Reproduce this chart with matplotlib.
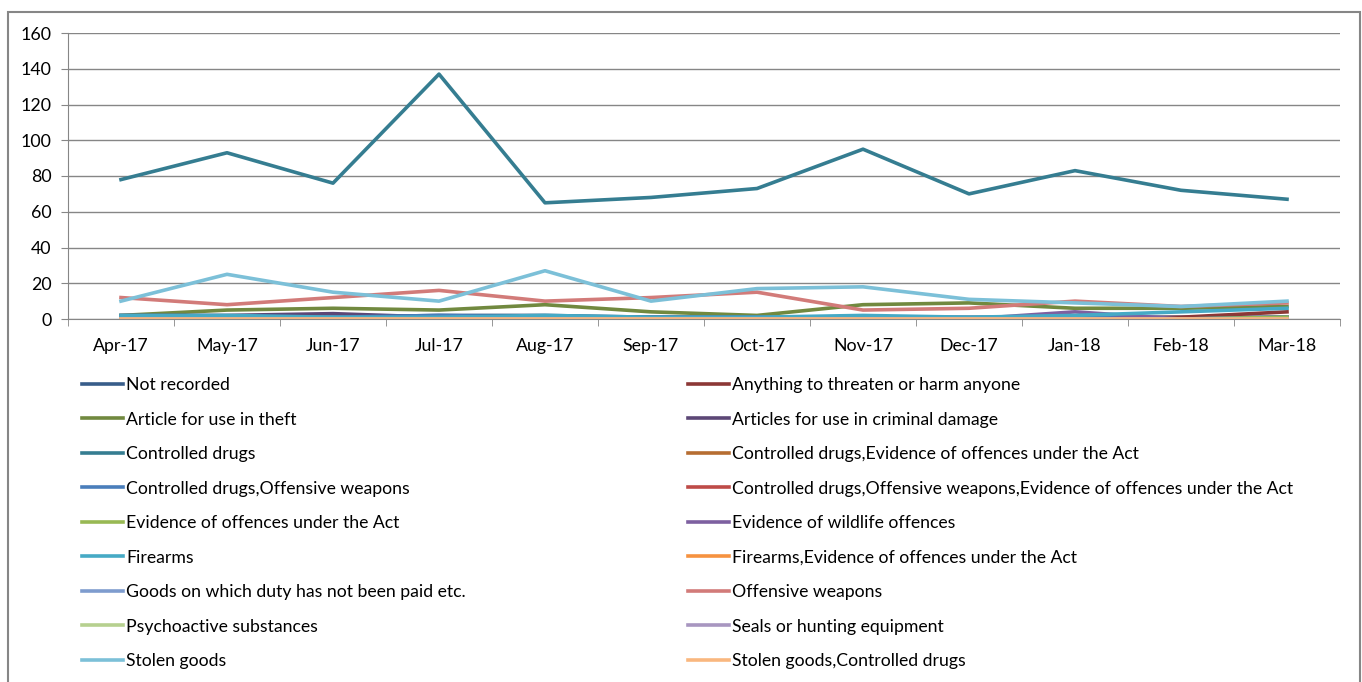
import matplotlib
matplotlib.use("Agg")
import matplotlib.pyplot as plt
from matplotlib.patches import Rectangle
import numpy as np

plt.rcParams["font.family"] = ["Lato", "DejaVu Sans"]

months = ["Apr-17", "May-17", "Jun-17", "Jul-17", "Aug-17", "Sep-17",
          "Oct-17", "Nov-17", "Dec-17", "Jan-18", "Feb-18", "Mar-18"]

# series names in legend order (row by row)
names = [
    "Not recorded",
    "Anything to threaten or harm anyone",
    "Article for use in theft",
    "Articles for use in criminal damage",
    "Controlled drugs",
    "Controlled drugs,Evidence of offences under the Act",
    "Controlled drugs,Offensive weapons",
    "Controlled drugs,Offensive weapons,Evidence of offences under the Act",
    "Evidence of offences under the Act",
    "Evidence of wildlife offences",
    "Firearms",
    "Firearms,Evidence of offences under the Act",
    "Goods on which duty has not been paid etc.",
    "Offensive weapons",
    "Psychoactive substances",
    "Seals or hunting equipment",
    "Stolen goods",
    "Stolen goods,Controlled drugs",
]

colors = [
    "#385D8A", "#8C3836", "#71893F", "#5C4776", "#357D91", "#B66D31",
    "#4A7EBB", "#BE4B48", "#98B954", "#7D60A0", "#46AAC5", "#F69240",
    "#7E9CCE", "#D27B79", "#B6D08F", "#A896C0", "#7CC0D8", "#F9B77F",
]

not_recorded     = [1, 1, 1, 2, 2, 1, 1, 1, 1, 1, 1, 1]
threaten         = [0, 0, 0, 0, 0, 0, 0, 0, 0, 0, 1, 4]
theft            = [2, 5, 6, 5, 8, 4, 2, 8, 9, 6, 6, 7]
criminal_damage  = [2, 2, 3, 1, 1, 1, 1, 0, 0, 1, 0, 1]
controlled_drugs = [78, 93, 76, 137, 65, 68, 73, 95, 70, 83, 72, 67]
cd_evidence      = [1, 1, 0, 0, 0, 0, 0, 0, 0, 0, 0, 0]
cd_weapons       = [1, 1, 1, 2, 1, 1, 1, 1, 0, 1, 0, 1]
cd_weapons_evid  = [0, 0, 0, 0, 0, 0, 0, 0, 0, 0, 0, 0]
evidence         = [0, 0, 0, 0, 1, 0, 0, 0, 0, 0, 0, 1]
wildlife         = [0, 0, 0, 0, 0, 0, 0, 0, 0, 4, 0, 0]
firearms         = [2, 2, 1, 1, 2, 1, 1, 2, 1, 2, 4, 6]
firearms_evid    = [0, 0, 0, 0, 0, 0, 0, 0, 0, 0, 0, 0]
duty_goods       = [0, 0, 0, 0, 0, 0, 0, 0, 0, 0, 0, 0]
offensive        = [12, 8, 12, 16, 10, 12, 15, 5, 6, 10, 7, 9]
psychoactive     = [0, 0, 0, 0, 0, 0, 0, 0, 0, 0, 0, 0]
seals            = [0, 0, 0, 0, 0, 0, 0, 0, 0, 0, 0, 0]
stolen           = [10, 25, 15, 10, 27, 10, 17, 18, 11, 9, 7, 10]
stolen_cd        = [0, 0, 0, 0, 0, 0, 0, 0, 0, 0, 0, 0]

series = [not_recorded, threaten, theft, criminal_damage, controlled_drugs,
          cd_evidence, cd_weapons, cd_weapons_evid, evidence, wildlife,
          firearms, firearms_evid, duty_goods, offensive, psychoactive,
          seals, stolen, stolen_cd]

fig = plt.figure(figsize=(13.62, 6.82), dpi=100)
ax = fig.add_axes([68 / 1362, 1 - 319 / 682, (1340 - 68) / 1362, (319 - 33) / 682])

x = np.arange(len(months))
handles = []
for vals, name, col in zip(series, names, colors):
    h, = ax.plot(x, vals, color=col, lw=2.6, label=name, solid_joinstyle="round")
    handles.append(h)

ax.set_xlim(-0.5, len(months) - 0.5)
ax.set_ylim(0, 160)
ax.set_yticks(range(0, 161, 20))
ax.set_xticks(x)
ax.set_xticklabels(months, fontsize=12.8)
ax.tick_params(axis="x", length=0, pad=14)
ax.set_xticks(np.arange(-0.5, len(months), 1), minor=True)
ax.tick_params(axis="x", which="minor", length=5, color="#868686")
ax.tick_params(axis="y", labelsize=12.8, length=5, color="#868686", pad=7)
ax.grid(axis="y", color="#868686", lw=1)
ax.set_axisbelow(True)
for s in ["top", "right"]:
    ax.spines[s].set_visible(False)
ax.spines["left"].set_color("#868686")
ax.spines["bottom"].set_color("#868686")

# legend in two columns, row-major order
left = handles[0::2]
right = handles[1::2]
kw = dict(loc="upper left", frameon=False, fontsize=12.7, handlelength=2.3,
          handletextpad=0.2, labelspacing=1.05, borderaxespad=0, borderpad=0)
leg1 = fig.legend(handles=left, bbox_to_anchor=(82 / 1362, 1 - 377 / 682), **kw)
leg2 = fig.legend(handles=right, bbox_to_anchor=(688 / 1362, 1 - 377 / 682), **kw)

# outer chart border
fig.patches.append(Rectangle((8 / 1362, -0.05), (1360 - 8) / 1362, 1.05 - 12 / 682,
                             transform=fig.transFigure, fill=False,
                             edgecolor="#868686", lw=1.5))

fig.savefig("out.png", dpi=100)
